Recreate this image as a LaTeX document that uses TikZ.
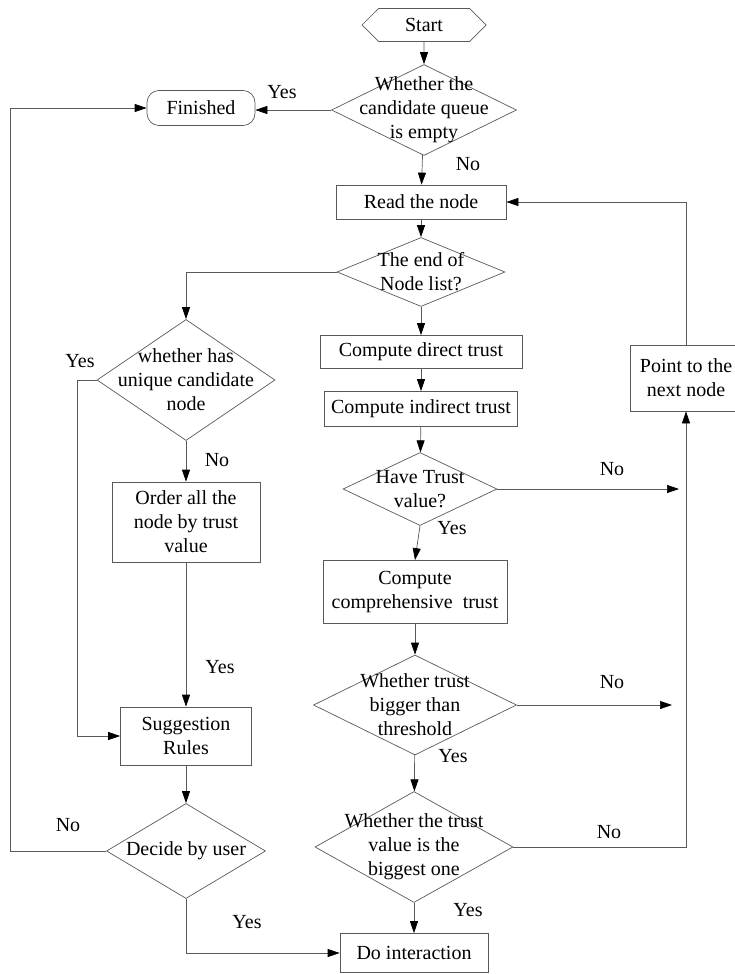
\documentclass[tikz,border=0pt]{standalone}
\usepackage{fontspec}
\setmainfont{Liberation Serif}
\usetikzlibrary{shapes.geometric,shapes.symbols,arrows.meta}
\tikzset{
  every node/.style={font=\fontsize{20}{24}\selectfont},
  box/.style={draw=black!65, line width=0.7pt, rectangle, align=center, inner sep=2pt},
  dia/.style={draw=black!65, line width=0.7pt, diamond, inner sep=0pt},
  startbox/.style={draw=black!65, line width=0.7pt, signal, signal to=east and west, inner sep=2pt},
  arr/.style={draw=black!65, line width=0.7pt, -{Triangle[length=12pt,width=8pt,color=black]}},
  lin/.style={draw=black!65, line width=0.7pt},
  lbl/.style={inner sep=0pt}
}
\begin{document}
\begin{tikzpicture}[x=1pt,y=-1pt]
\useasboundingbox (0,0) rectangle (734,974);

\node[startbox, minimum width=124pt, minimum height=33pt] (start) at (424,25) {Start};
\node[dia, minimum width=185pt, minimum height=91pt,
  label={[align=center]center:{Whether the\\candidate queue\\is empty}}] (q1) at (424,110) {};
\node[box, rounded corners=12pt, minimum width=108pt, minimum height=35pt] (fin) at (201,108) {Finished};
\node[box, minimum width=170pt, minimum height=34pt] (read) at (421,202) {Read the node};
\node[dia, minimum width=168pt, minimum height=69pt,
  label={[align=center]center:{The end of\\Node list?}}] (q2) at (421,272) {};
\node[box, minimum width=202pt, minimum height=33pt] (direct) at (421,352) {Compute direct trust};
\node[box, minimum width=193pt, minimum height=35pt] (indirect) at (421,409) {Compute indirect trust};
\node[dia, minimum width=154pt, minimum height=73pt,
  label={[align=center]center:{Have Trust\\value?}}] (have) at (420,489) {};
\node[box, minimum width=184pt, minimum height=63pt] (comp) at (415,592) {Compute\\comprehensive\ \ trust};
\node[dia, minimum width=203pt, minimum height=100pt,
  label={[align=center]center:{Whether trust\\bigger than\\threshold}}] (q5) at (415,705) {};
\node[dia, minimum width=198pt, minimum height=111pt,
  label={[align=center]center:{Whether the trust\\value is the\\biggest one}}] (q6) at (414,847) {};
\node[box, minimum width=148pt, minimum height=39pt] (do) at (414,953) {Do interaction};
\node[box, minimum width=112pt, minimum height=66pt] (nxt) at (686,378) {Point to the\\next node};

%-------------------------------------
\node[dia, minimum width=178pt, minimum height=121pt,
  label={[align=center]center:{whether has\\unique candidate\\node}}] (q3) at (186,380) {};
\node[box, minimum width=148pt, minimum height=80pt] (order) at (186,522) {Order all the\\node by trust\\value};
\node[box, minimum width=131pt, minimum height=58pt] (sug) at (186,736) {Suggestion\\Rules};
\node[dia, minimum width=159pt, minimum height=95pt,
  label={[align=center]center:{Decide by user}}] (dec) at (186,851) {};

\coordinate (lft) at (10,0);
\coordinate (rgt) at (686,0);

%-------------------------------------
\draw[arr] (start) -- (q1);
\draw[arr] (q1.west) -- (q1.west -| fin.east);
\draw[arr] (q1) -- (read);
\draw[arr] (read) -- (q2);
\draw[arr] (q2) -- (direct);
\draw[arr] (direct) -- (indirect);
\draw[arr] (indirect) -- (have);
\draw[arr] (have.south) -- (comp.north);
\draw[arr] (comp) -- (q5);
\draw[arr] (q5) -- (q6);
\draw[arr] (q6) -- (do);
\draw[arr] (have.east) -- ([xshift=-7pt]have.east -| rgt);
\draw[arr] (q5.east) -- ([xshift=-14pt]q5.east -| rgt);
\draw[arr] (q6.east) -| (nxt.south);
\draw[arr] (nxt.north) |- (read.east);

\draw[arr] (q2.west) -| (q3.north);
\draw[arr] (q3) -- (order);
\draw[arr] (order) -- (sug);
\draw[arr] (q3.west) -- ([xshift=-19pt]q3.west) |- (sug.west);
\draw[arr] (sug) -- (dec);
\draw[arr] (dec.west) -- (dec.west -| lft) |- (fin.west);
\draw[arr] (dec.south) |- (do.west);

%\draw labels
\node[lbl] (y1) at (282,92) {Yes};
\node[lbl] (n1) at (468,164) {No};
\node[lbl] (y2) at (80,361) {Yes};
\node[lbl] (n2) at (217,460) {No};
\node[lbl] (y3) at (220,667) {Yes};
\node[lbl] (n3) at (68,825) {No};
\node[lbl] (y4) at (247,922) {Yes};
\node[lbl] (n4) at (612,469) {No};
\node[lbl] (y5) at (452,528) {Yes};
\node[lbl] (n5) at (612,682) {No};
\node[lbl] (y6) at (453,756) {Yes};
\node[lbl] (n6) at (609,832) {No};
\node[lbl] (y7) at (468,910) {Yes};

\end{tikzpicture}
\end{document}
